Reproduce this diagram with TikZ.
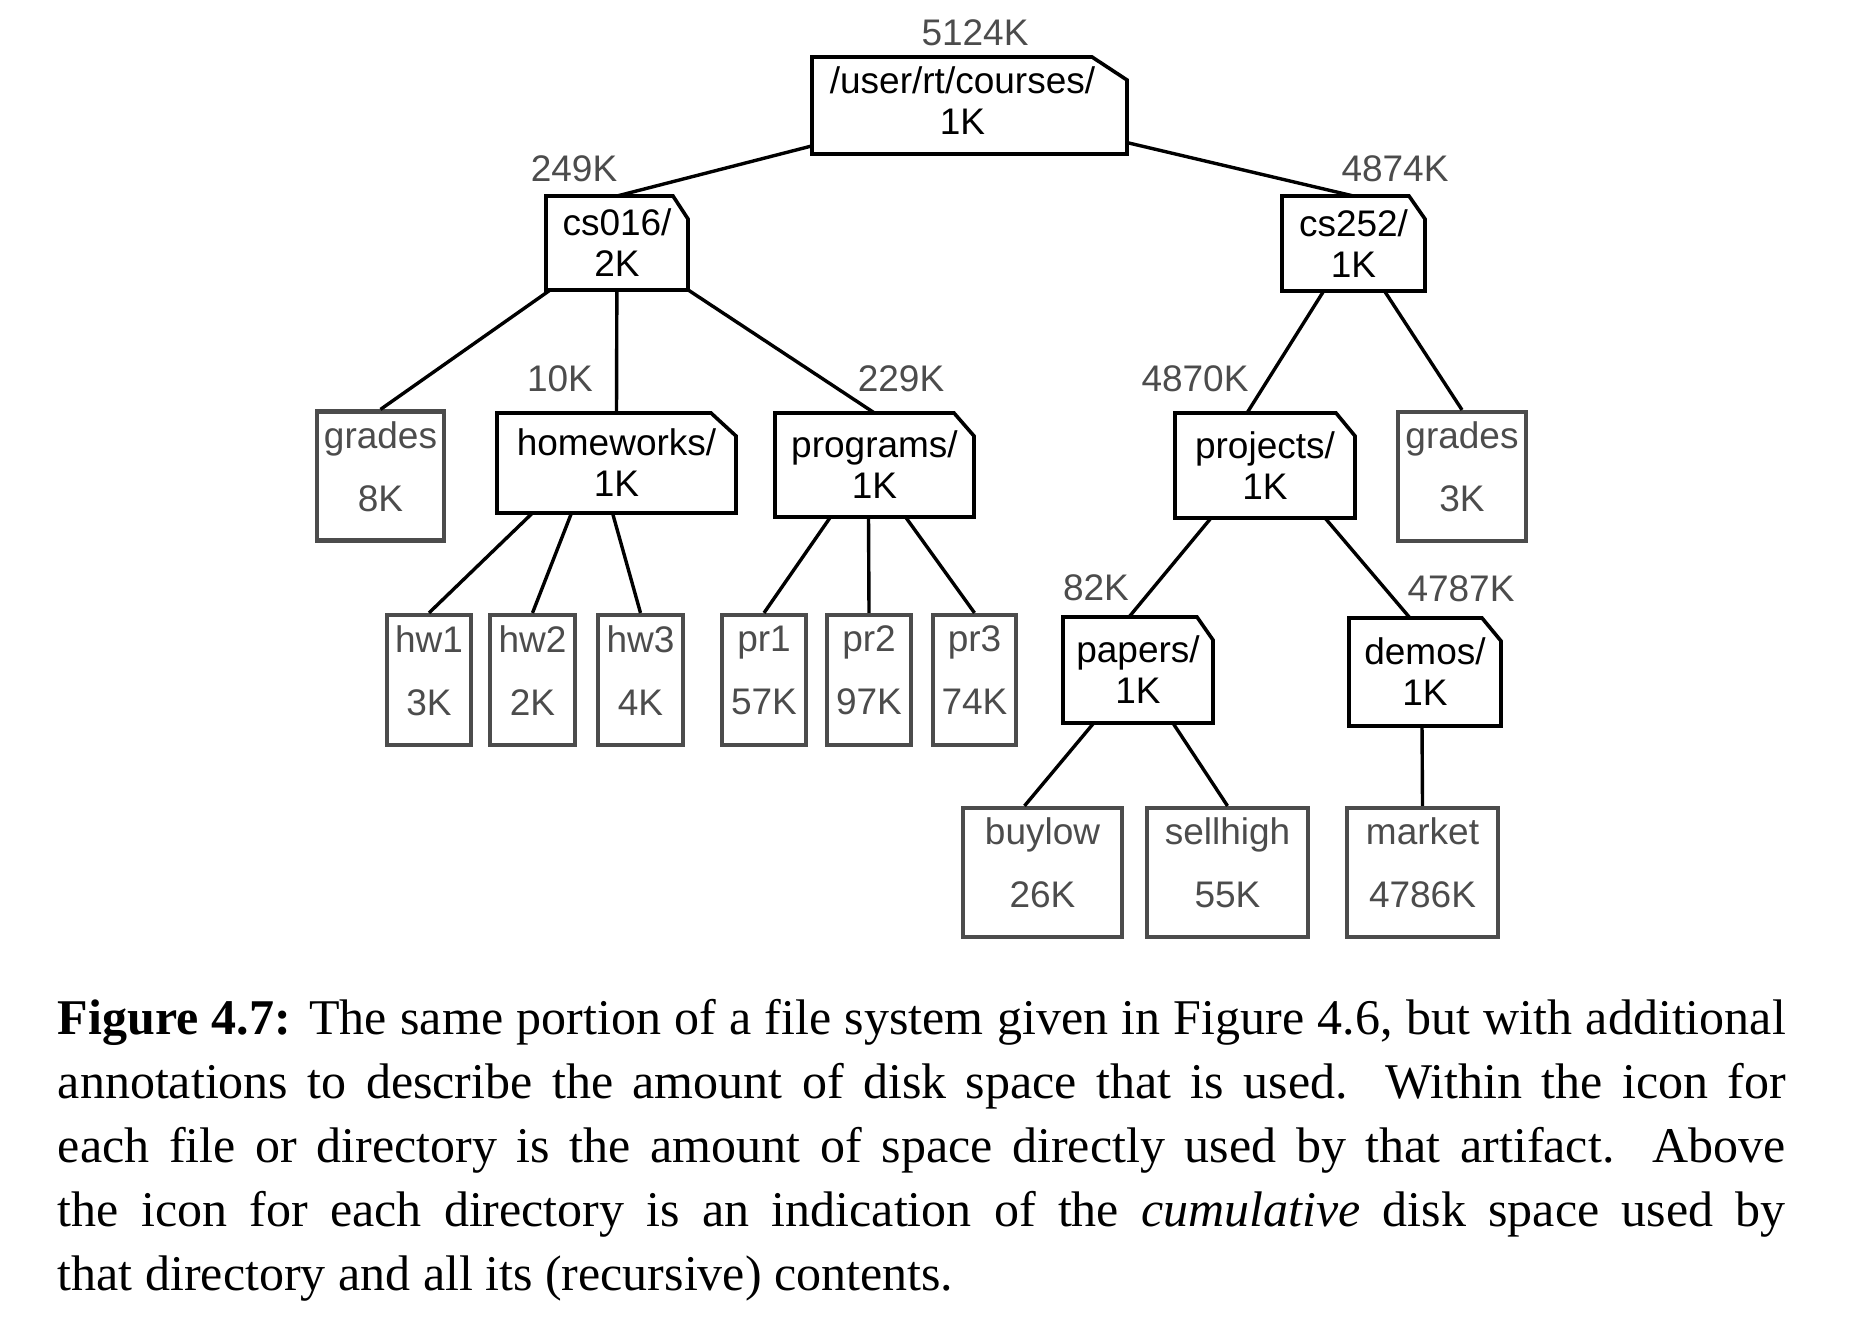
\documentclass[tikz,border=0pt]{standalone}
\usepackage{fontspec}
\setmainfont{Liberation Serif}
\setsansfont{Liberation Sans}
\newlength{\du}
\setlength{\du}{0.25pt}
\definecolor{dialinecolor}{rgb}{0.000000, 0.000000, 0.000000}
\definecolor{filecolor}{rgb}{0.300000, 0.300000, 0.300000}
\tikzset{
  dirbox/.style={inner sep=0pt, outer sep=0pt, align=center, text=dialinecolor,
    font=\sffamily\fontsize{37\du}{41\du}\selectfont},
  dirline/.style={draw=dialinecolor, line width=3.6\du, line join=miter},
  filebox/.style={draw=filecolor, line width=4.2\du, inner sep=0pt, align=center,
    text=filecolor, minimum height=129\du,
    font=\sffamily\fontsize{37\du}{63\du}\selectfont,
    execute at end node={\rule[-19\du]{0pt}{0pt}}},
  sizelabel/.style={anchor=base, inner sep=0pt, text=filecolor,
    font=\sffamily\fontsize{37\du}{42\du}\selectfont},
  link/.style={draw=dialinecolor, line width=3.4\du}
}
\begin{document}
\begin{tikzpicture}
\pgftransformxscale{1.000000}
\pgftransformyscale{-1.000000}
\fill[white] (0\du,0\du) rectangle (1850\du,1317\du);
\useasboundingbox (0\du,0\du) rectangle (1850\du,1317\du);
% directories
\node[dirbox, minimum width=315\du, minimum height=97\du, execute at end node={\rule[-9\du]{0pt}{0pt}}] (root) at (969.5\du,105.5\du) {/user/rt/courses/\hspace*{14\du}\\1K\hspace*{14\du}};
\node[dirbox, minimum width=142\du, minimum height=94\du] (cs016) at (617\du,243\du) {cs016/\\2K};
\node[dirbox, minimum width=143\du, minimum height=95\du] (cs252) at (1353.5\du,243.5\du) {cs252/\\1K};
\node[dirbox, minimum width=239\du, minimum height=100\du] (homeworks) at (616.5\du,463\du) {homeworks/\\1K};
\node[dirbox, minimum width=199\du, minimum height=104\du] (programs) at (874.5\du,465\du) {programs/\\1K};
\node[dirbox, minimum width=180\du, minimum height=105\du] (projects) at (1265\du,465.5\du) {projects/\\1K};
\node[dirbox, minimum width=150\du, minimum height=106\du] (papers) at (1138\du,670\du) {papers/\\1K};
\node[dirbox, minimum width=152\du, minimum height=108\du] (demos) at (1425\du,672\du) {demos/\\1K};
% folded corner of each directory
\foreach \n/\f in {root/35, cs016/15, cs252/16, homeworks/25, programs/20, projects/19, papers/16, demos/19}
  \draw[dirline] (\n.south west) -- (\n.north west) -- ([xshift=-\f\du]\n.north east)
    -- ++(\f\du,23\du) -- (\n.south east) -- cycle;
% files
\node[filebox, minimum width=127\du] (gradesA) at (380.5\du,476\du) {grades\\8K};
\node[filebox, minimum width=128\du] (gradesB) at (1462\du,476.5\du) {grades\\3K};
\node[filebox, minimum width=84\du, minimum height=130\du] (hw1) at (429\du,680\du) {hw1\\3K};
\node[filebox, minimum width=85\du, minimum height=130\du] (hw2) at (532.5\du,680\du) {hw2\\2K};
\node[filebox, minimum width=85\du, minimum height=130\du] (hw3) at (640.5\du,680\du) {hw3\\4K};
\node[filebox, minimum width=84\du, minimum height=130\du] (pr1) at (764\du,680\du) {pr1\\57K};
\node[filebox, minimum width=84\du, minimum height=130\du] (pr2) at (869\du,680\du) {pr2\\97K};
\node[filebox, minimum width=83\du, minimum height=130\du] (pr3) at (974.5\du,680\du) {pr3\\74K};
\node[filebox, minimum width=159\du] (buylow) at (1042.5\du,872.5\du) {buylow\\26K};
\node[filebox, minimum width=161\du] (sellhigh) at (1227.5\du,872.5\du) {sellhigh\\55K};
\node[filebox, minimum width=151\du] (market) at (1422.5\du,872.5\du) {market\\4786K};
% setfont left to latex
\node[sizelabel] (rootsize) at (975\du,45\du) {5124K};
\node[sizelabel] (cs016size) at (574\du,181\du) {249K};
\node[sizelabel] (cs252size) at (1395\du,181\du) {4874K};
\node[sizelabel] (homeworkssize) at (560\du,391\du) {10K};
\node[sizelabel] (programssize) at (901\du,391\du) {229K};
\node[sizelabel] (projectssize) at (1195\du,391\du) {4870K};
\node[sizelabel] (paperssize) at (1096\du,600\du) {82K};
\node[sizelabel] (demossize) at (1461\du,601\du) {4787K};
% tree edges
\draw[link] (root) -- (cs016.north);
\draw[link] (root) -- (cs252.north);
\draw[link] (cs016) -- (gradesA.north);
\draw[link] (cs016) -- (homeworks.north);
\draw[link] (cs016) -- (programs.north);
\draw[link] (cs252) -- ([xshift=-18\du]projects.north);
\draw[link] (cs252) -- (gradesB.north);
\draw[link] ([xshift=-84\du]homeworks.south) -- (hw1.north);
\draw[link] ([xshift=-45\du]homeworks.south) -- (hw2.north);
\draw[link] ([xshift=-4\du]homeworks.south) -- (hw3.north);
\draw[link] ([xshift=-44\du]programs.south) -- (pr1.north);
\draw[link] ([xshift=-6\du]programs.south) -- (pr2.north);
\draw[link] ([xshift=31\du]programs.south) -- (pr3.north);
\draw[link] ([xshift=-54\du]projects.south) -- ([xshift=-9\du]papers.north);
\draw[link] ([xshift=60\du]projects.south) -- ([xshift=-15\du]demos.north);
\draw[link] (papers) -- ([xshift=-18\du]buylow.north);
\draw[link] (papers) -- (sellhigh.north);
\draw[link] ([xshift=-3\du]demos.south) -- (market.north);
% caption
\node[anchor=north west, inner sep=0pt, text width=1728\du, align=justify,
  font=\fontsize{50\du}{64\du}\selectfont] (caption) at (57\du,998\du)
  {\textbf{Figure 4.7:} The same portion of a file system given in Figure 4.6, but with additional\linebreak
   annotations to describe the amount of disk space that is used.  Within the icon for\linebreak
   each file or directory is the amount of space directly used by that artifact.  Above\linebreak
   the icon for each directory is an indication of the \emph{cumulative} disk space used by\linebreak
   that directory and all its (recursive) contents.};
\end{tikzpicture}
\end{document}
